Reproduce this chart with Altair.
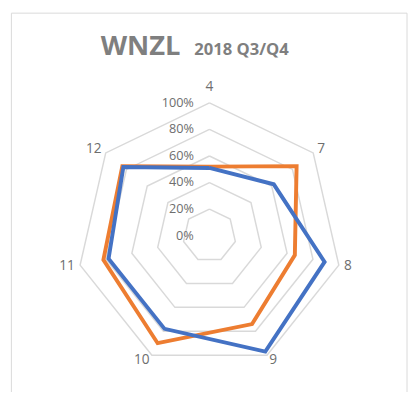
import altair as alt
import pandas as pd

# ---- data ----
categories = ["4", "7", "8", "9", "10", "11", "12"]
orange_values = [52, 84, 66, 74, 90, 82, 84]
blue_values = [51, 62, 89, 97, 78, 78, 83]
grid_levels = [20, 40, 60, 80, 100]
tick_levels = [0, 20, 40, 60, 80, 100]
tick_labels = ["0%", "20%", "40%", "60%", "80%", "100%"]
title_main = "WNZL"
title_sub = "2018 Q3/Q4"

ORANGE = "#ED7D31"
BLUE = "#4472C4"
GRID = "#d9d9d9"
TEXT = "#6e6e6e"
FONT = "Open Sans"
N = len(categories)

W, H = 410, 384
CX, CY, R = 206.5, 228.5, 136
xdom = [-CX / R, (W - CX) / R]
ydom = [(CY - H) / R, CY / R]


def X():
    return alt.X("px:Q", scale=alt.Scale(domain=xdom, nice=False, zero=False), axis=None)


def Y():
    return alt.Y("py:Q", scale=alt.Scale(domain=ydom, nice=False, zero=False), axis=None)


def loop_rows(values, name):
    rows = []
    for k in range(N + 1):
        i = k % N
        rows.append({"series": name, "i": k, "v": values[i]})
    return rows


polar_x = "datum.v / 100 * sin(datum.i * 2 * PI / %d)" % N
polar_y = "datum.v / 100 * cos(datum.i * 2 * PI / %d)" % N

# grid rings
grid_rows = []
for lv in grid_levels:
    for k in range(N + 1):
        grid_rows.append({"level": lv, "i": k, "v": lv})
grid = (
    alt.Chart(pd.DataFrame(grid_rows))
    .transform_calculate(px=polar_x, py=polar_y)
    .mark_line(color=GRID, strokeWidth=1.5)
    .encode(x=X(), y=Y(), order="i:Q", detail="level:N")
)


def series_layer(values, name, color):
    return (
        alt.Chart(pd.DataFrame(loop_rows(values, name)))
        .transform_calculate(px=polar_x, py=polar_y)
        .mark_line(color=color, strokeWidth=4, strokeJoin="miter")
        .encode(x=X(), y=Y(), order="i:Q")
    )


orange_line = series_layer(orange_values, "orange", ORANGE)
blue_line = series_layer(blue_values, "blue", BLUE)

# percentage tick labels along the top spoke
ticks = (
    alt.Chart(pd.DataFrame({"v": tick_levels, "lab": tick_labels, "i": [0] * len(tick_levels)}))
    .transform_calculate(px=polar_x, py=polar_y)
    .mark_text(align="right", baseline="middle", dx=-16, font=FONT, fontSize=13, color=TEXT)
    .encode(x=X(), y=Y(), text="lab:N")
)

# category labels
cat_df = pd.DataFrame({"cat": categories, "i": list(range(N)), "v": [104] * N})
cat_base = alt.Chart(cat_df).transform_calculate(
    px=polar_x, py=polar_y, s="sin(datum.i * 2 * PI / %d)" % N
)
cat_top = cat_base.transform_filter("abs(datum.s) < 0.01").mark_text(
    align="center", baseline="bottom", dy=-4, font=FONT, fontSize=14, color=TEXT
).encode(x=X(), y=Y(), text="cat:N")
cat_right = cat_base.transform_filter("datum.s >= 0.01").mark_text(
    align="left", baseline="middle", font=FONT, fontSize=14, color=TEXT
).encode(x=X(), y=Y(), text="cat:N")
cat_left = cat_base.transform_filter("datum.s <= -0.01").mark_text(
    align="right", baseline="middle", font=FONT, fontSize=14, color=TEXT
).encode(x=X(), y=Y(), text="cat:N")

# title
t1 = alt.Chart(pd.DataFrame({"t": [title_main]})).mark_text(
    align="left", baseline="alphabetic", font=FONT, fontSize=28, fontWeight="bold", color="#7f7f7f"
).encode(x=alt.value(95), y=alt.value(43), text="t:N")
t2 = alt.Chart(pd.DataFrame({"t": [title_sub]})).mark_text(
    align="left", baseline="alphabetic", font=FONT, fontSize=17, fontWeight="bold", color="#7f7f7f"
).encode(x=alt.value(191), y=alt.value(43), text="t:N")

# chart border
border = alt.Chart(pd.DataFrame({"b": [1]})).mark_rect(
    fillOpacity=0, stroke=GRID, strokeWidth=1
).encode(x=alt.value(3.5), x2=alt.value(409), y=alt.value(0.5), y2=alt.value(600))

chart = (
    alt.layer(border, grid, orange_line, blue_line, ticks, cat_top, cat_right, cat_left, t1, t2)
    .properties(width=W, height=H, padding=0, autosize="none", background="white")
    .configure_view(stroke=None)
)

chart.save("out.html", embed_options={"renderer": "svg", "actions": False})
